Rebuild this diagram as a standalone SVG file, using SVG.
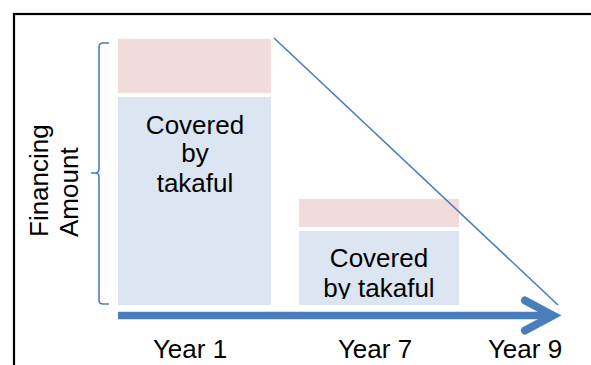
<svg xmlns="http://www.w3.org/2000/svg" width="591" height="365" viewBox="0 0 591 365">
  <style>
    .t { font-family: "Liberation Sans", Arial, sans-serif; font-size: 26px; fill: #000; }
    .c { text-anchor: middle; }
    .pink { fill: #F2DCDB; }
    .blue { fill: #DCE6F2; }
    .ln { stroke: #4A7EBB; fill: none; }
  </style>
  <defs>
    <clipPath id="clip2"><rect x="299" y="231" width="160" height="68"/></clipPath>
  </defs>
  <rect x="0" y="0" width="591" height="365" fill="#fff"/>
  <rect x="14" y="14" width="620" height="400" fill="none" stroke="#000" stroke-width="2.2"/>

  <g id="bar-year1">
    <rect class="pink" x="118" y="39" width="153" height="54"/>
    <rect class="blue" x="118" y="97" width="153" height="208"/>
    <text class="t c" x="195" y="133.5">Covered</text>
    <text class="t c" x="195" y="162">by</text>
    <text class="t c" x="195" y="191.5">takaful</text>
  </g>

  <g id="bar-year7">
    <rect class="pink" x="299" y="199" width="160" height="28"/>
    <rect class="blue" x="299" y="231" width="160" height="74"/>
    <text class="t c" x="379" y="267">Covered</text>
    <text class="t c" x="379" y="297" clip-path="url(#clip2)">by takaful</text>
  </g>

  <g id="axis-label">
    <text class="t" transform="translate(48,237) rotate(-90)">Financing</text>
    <text class="t" transform="translate(78,237) rotate(-90)">Amount</text>
  </g>

  <g id="year-labels">
    <text class="t c" x="190" y="358">Year 1</text>
    <text class="t c" x="375" y="358">Year 7</text>
    <text class="t c" x="525" y="358">Year 9</text>
  </g>

  <g id="connectors">
    <path class="ln" stroke-width="1.6" d="M109,43 H103 Q99,43 99,47 V169 Q99,173 95,173 H91 M95,173 Q99,173 99,177 V300 Q99,304 103,304 H109"/>
    <line class="ln" stroke-width="1.6" x1="274" y1="38" x2="558" y2="305"/>
    <line class="ln" stroke-width="7.5" x1="118" y1="315.5" x2="552" y2="315.5"/>
    <polyline class="ln" stroke-width="8" stroke-linecap="round" stroke-linejoin="miter" points="525,300.5 553,315.5 525,330.5"/>
  </g>
</svg>
